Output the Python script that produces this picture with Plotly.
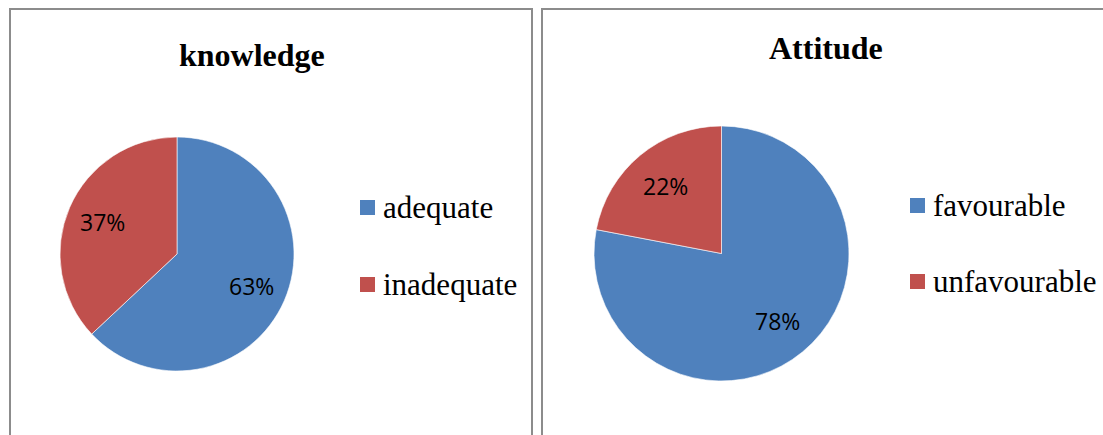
import math
import plotly.graph_objects as go

W, H = 1103, 435

knowledge_labels = ["adequate", "inadequate"]
knowledge_values = [63, 37]
attitude_labels = ["favourable", "unfavourable"]
attitude_values = [78, 22]
titles = ["knowledge", "Attitude"]
colors = ["#4F81BD", "#C0504D"]

def px_x(x):
    return x / W

def px_y(y):
    return 1 - y / H

fig = go.Figure()
shapes = []
annotations = []

def add_pie(labels, values, cx, cy, r):
    fig.add_trace(go.Pie(
        labels=labels, values=values, sort=False, direction="clockwise", rotation=0,
        marker=dict(colors=colors, line=dict(color="white", width=0.6)),
        textposition="none",
        domain=dict(x=[px_x(cx - r), px_x(cx + r)], y=[px_y(cy + r), px_y(cy - r)]),
        showlegend=False, hoverinfo="label+percent",
    ))
    # data labels placed at the mid-angle of each slice
    total = float(sum(values))
    cum = 0.0
    for v in values:
        mid = (cum + v / 2.0) / total * 2 * math.pi
        cum += v
        d = 0.69 * r
        tx = cx + d * math.sin(mid)
        ty = cy - d * math.cos(mid)
        annotations.append(dict(text="%d%%" % round(v / total * 100), x=px_x(tx), y=px_y(ty),
                                xref="paper", yref="paper", showarrow=False,
                                xanchor="center", yanchor="middle",
                                font=dict(family="Open Sans", size=23, color="black")))

add_pie(knowledge_labels, knowledge_values, 177, 254, 117)
add_pie(attitude_labels, attitude_values, 721.5, 253.5, 127.5)

border = dict(color="#8C8C8C", width=2)
shapes.append(dict(type="rect", xref="paper", yref="paper",
                   x0=px_x(10), x1=px_x(532), y0=px_y(445), y1=px_y(9), line=border))
shapes.append(dict(type="rect", xref="paper", yref="paper",
                   x0=px_x(542), x1=px_x(1115), y0=px_y(445), y1=px_y(9), line=border))

serif = "Liberation Serif, Times New Roman, serif"
annotations.append(dict(text="<b>%s</b>" % titles[0], x=px_x(252), y=px_y(55), xref="paper", yref="paper",
                        showarrow=False, xanchor="center", yanchor="middle",
                        font=dict(family=serif, size=32, color="black")))
annotations.append(dict(text="<b>%s</b>" % titles[1], x=px_x(826), y=px_y(48), xref="paper", yref="paper",
                        showarrow=False, xanchor="center", yanchor="middle",
                        font=dict(family=serif, size=32, color="black")))

def add_legend(labels, sq_x, text_x, ys):
    for lab, col, y in zip(labels, colors, ys):
        shapes.append(dict(type="rect", xref="paper", yref="paper",
                           x0=px_x(sq_x), x1=px_x(sq_x + 15), y0=px_y(y + 7.5), y1=px_y(y - 7.5),
                           fillcolor=col, line=dict(width=0)))
        annotations.append(dict(text=lab, x=px_x(text_x), y=px_y(y), xref="paper", yref="paper",
                                showarrow=False, xanchor="left", yanchor="middle",
                                font=dict(family=serif, size=31, color="black")))

add_legend(knowledge_labels, 360, 381, [207.5, 284.5])
add_legend(attitude_labels, 910, 931, [205.5, 281.5])

fig.update_layout(width=W, height=H, margin=dict(l=0, r=0, t=0, b=0),
                  paper_bgcolor="white", plot_bgcolor="white",
                  shapes=shapes, annotations=annotations)

fig.write_html("out.html")
